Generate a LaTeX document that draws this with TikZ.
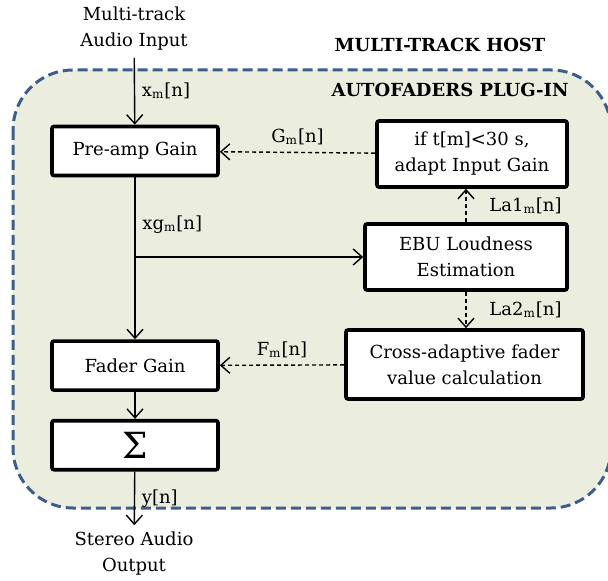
\documentclass[tikz,border=0pt]{standalone}
\usepackage{fontspec}
\setmainfont{DejaVu Serif}
\usepackage{xcolor}
\usetikzlibrary{arrows.meta, positioning}
\definecolor{hostblue}{HTML}{3B5E8C}
\definecolor{pluginfill}{HTML}{EBEEDF}
\tikzset{
    gainbox/.style={rectangle, draw, line width=1.8pt, fill=white, minimum width=83pt, minimum height=24.5pt, rounded corners=1pt},
    procbox/.style={rectangle, draw, line width=1.8pt, fill=white, align=center, minimum height=33pt, rounded corners=1pt},
    plugin/.style={draw=hostblue, fill=pluginfill, line width=1.5pt, dash pattern=on 5pt off 2.5pt, rounded corners=30pt},
    ioname/.style={align=center},
    boxtitle/.style={font=\fontsize{9}{11}\selectfont\bfseries},
    sig/.style={-{Straight Barb[length=4.5pt,width=8pt]}, line width=0.7pt},
    ctrl/.style={sig, dash pattern=on 2pt off 1.5pt},
}

\begin{document}
\begin{tikzpicture}[x=0.5pt, y=-0.5pt, font=\fontsize{9}{13}\selectfont]
    \useasboundingbox (0,0) rectangle (608,581);

    % === PLUG-IN AREA ===
    \draw[plugin] (13,70) rectangle (611,508);
    \node[boxtitle] (hosttitle) at (440,45) {MULTI-TRACK HOST};
    \node[boxtitle] (plugintitle) at (450,90) {AUTOFADERS PLUG-IN};

    % === SIGNAL PATH ===
    \node[ioname] (input) at (134,29) {Multi-track\\Audio Input};
    \node[gainbox] (preamp) at (135,151) {Pre-amp Gain};
    \node[gainbox, below=81pt of preamp] (fader) {Fader Gain};
    \node[gainbox, below=13.5pt of fader] (summer) {\fontsize{18}{18}\selectfont Σ};
    \node[ioname] (output) at (134,554) {Stereo Audio\\Output};

    % === ANALYSIS SIDE ===
    \node[procbox, minimum width=95pt] (adapt) at (472,154) {if t[m]<30 s,\\adapt Input Gain};
    \node[procbox, minimum width=101pt] (ebu) at (466,257) {EBU Loudness\\Estimation};
    \node[procbox, minimum width=118.5pt, minimum height=34.5pt] (crossfader) at (464.5,364.5) {Cross-adaptive fader\\value calculation};

    \coordinate (tap) at (preamp.south |- ebu.west);

    \draw[sig] (input) -- (preamp) node[midway, right] {x\textsubscript{m}[n]};
    \draw[line width=0.7pt] (preamp) -- (tap) node[pos=0.6, right] {xg\textsubscript{m}[n]};
    \draw[sig] (tap) -- (fader);
    \draw[sig] (tap) -- (ebu);
    \draw[sig] (fader) -- (summer);
    \draw[sig] (summer) -- (output) node[midway, right] {y[n]};

    \draw[ctrl] (adapt) -- (preamp) node[midway, above] {G\textsubscript{m}[n]};
    \draw[ctrl] (ebu.north) -- (ebu.north |- adapt.south) node[midway, right, xshift=8pt] {La1\textsubscript{m}[n]};
    \draw[ctrl] (ebu.south) -- (ebu.south |- crossfader.north) node[midway, right, xshift=8pt] {La2\textsubscript{m}[n]};
    \draw[ctrl] (crossfader) -- (fader) node[midway, above] {F\textsubscript{m}[n]};

\end{tikzpicture}
\end{document}
